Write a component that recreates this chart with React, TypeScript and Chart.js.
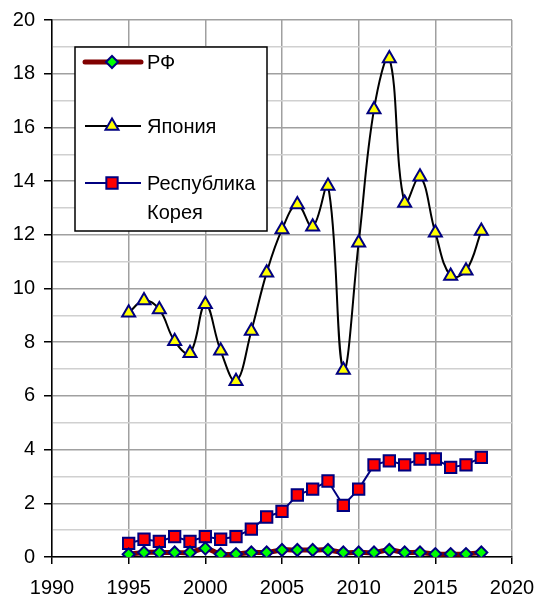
import React, { useEffect, useRef } from "react";
import { Chart, registerables } from "chart.js";
import { drawPoint } from "chart.js/helpers";

Chart.register(...registerables);

const years = [1995, 1996, 1997, 1998, 1999, 2000, 2001, 2002, 2003, 2004, 2005, 2006, 2007, 2008, 2009, 2010, 2011, 2012, 2013, 2014, 2015, 2016, 2017, 2018];
const rfValues = [0.1, 0.17, 0.17, 0.17, 0.17, 0.32, 0.11, 0.11, 0.17, 0.17, 0.26, 0.26, 0.26, 0.26, 0.17, 0.17, 0.17, 0.26, 0.17, 0.17, 0.11, 0.11, 0.11, 0.17];
const japanValues = [9.1, 9.55, 9.22, 8.04, 7.59, 9.41, 7.68, 6.55, 8.42, 10.59, 12.2, 13.13, 12.3, 13.82, 6.96, 11.7, 16.67, 18.57, 13.18, 14.16, 12.08, 10.47, 10.66, 12.14];
const koreaValues = [0.51, 0.66, 0.58, 0.76, 0.58, 0.76, 0.66, 0.76, 1.04, 1.49, 1.7, 2.31, 2.53, 2.83, 1.92, 2.53, 3.43, 3.58, 3.43, 3.65, 3.65, 3.34, 3.43, 3.71];
const seriesLabels = ["РФ", "Япония", "Республика Корея"];
const legendLines = [["РФ"], ["Япония"], ["Республика", "Корея"]];
const xTickValues = [1990, 1995, 2000, 2005, 2010, 2015, 2020];
const yTickLabels = ["0", "2", "4", "6", "8", "10", "12", "14", "16", "18", "20"];

const FONT = "'Liberation Sans', Arial, sans-serif";
const NAVY = "#000080";

const toPoints = (vals: number[]) => years.map((y, i) => ({ x: y, y: vals[i] }));

const legendPlugin = {
  id: "boxLegend",
  afterDraw(chart: any) {
    const { ctx, chartArea } = chart;
    const left = chartArea.left + 23;
    const top = chartArea.top + 27;
    const w = 192;
    const h = 184;
    ctx.save();
    ctx.fillStyle = "#ffffff";
    ctx.fillRect(left, top, w, h);
    ctx.strokeStyle = "#000000";
    ctx.lineWidth = 1.5;
    ctx.strokeRect(left, top, w, h);
    const rows = [15, 79, 136];
    chart.data.datasets.forEach((ds: any, i: number) => {
      const y = top + rows[i];
      ctx.strokeStyle = ds.borderColor;
      ctx.lineWidth = ds.borderWidth;
      ctx.lineCap = ds.borderWidth > 3 ? "round" : "butt";
      ctx.beginPath();
      ctx.moveTo(left + 10, y);
      ctx.lineTo(left + 66, y);
      ctx.stroke();
      ctx.fillStyle = ds.pointBackgroundColor;
      ctx.strokeStyle = ds.pointBorderColor;
      ctx.lineWidth = ds.pointBorderWidth;
      drawPoint(ctx, { pointStyle: ds.pointStyle, radius: ds.pointRadius, rotation: 0, borderWidth: ds.pointBorderWidth }, left + 37, y);
      ctx.fillStyle = "#000000";
      ctx.font = `20px ${FONT}`;
      ctx.textAlign = "left";
      ctx.textBaseline = "middle";
      legendLines[i].forEach((t, j) => {
        ctx.fillText(t, left + 72, y + 1 + j * 29);
      });
    });
    ctx.restore();
  },
};

export default function App() {
  const ref = useRef<HTMLCanvasElement | null>(null);
  useEffect(() => {
    if (!ref.current) return;
    const chart = new Chart(ref.current, {
      type: "line",
      data: {
        datasets: [
          {
            label: seriesLabels[0],
            data: toPoints(rfValues),
            borderColor: "#800000",
            borderWidth: 5,
            tension: 0.4,
            pointStyle: "rectRot",
            pointRadius: 6,
            pointBackgroundColor: "#00ff00",
            pointBorderColor: NAVY,
            pointBorderWidth: 2,
          },
          {
            label: seriesLabels[1],
            data: toPoints(japanValues),
            borderColor: "#000000",
            borderWidth: 2,
            tension: 0.4,
            pointStyle: "triangle",
            pointRadius: 7.5,
            pointBackgroundColor: "#ffff00",
            pointBorderColor: NAVY,
            pointBorderWidth: 2,
          },
          {
            label: seriesLabels[2],
            data: toPoints(koreaValues),
            borderColor: NAVY,
            borderWidth: 2,
            tension: 0,
            pointStyle: "rect",
            pointRadius: 8,
            pointBackgroundColor: "#ff0000",
            pointBorderColor: NAVY,
            pointBorderWidth: 2,
          },
        ],
      },
      options: {
        responsive: false,
        animation: false,
        devicePixelRatio: 1,
        layout: { padding: { top: 20, right: 27, left: 0, bottom: 0 } },
        plugins: { legend: { display: false }, tooltip: { enabled: false } },
        scales: {
          x: {
            type: "linear",
            min: xTickValues[0],
            max: xTickValues[xTickValues.length - 1],
            afterBuildTicks: (scale: any) => {
              scale.ticks = xTickValues.map((v) => ({ value: v }));
            },
            afterFit: (scale: any) => {
              scale.height = 42;
              scale.paddingLeft = 0;
              scale.paddingRight = 0;
            },
            ticks: {
              font: { family: FONT, size: 20 },
              color: "#000000",
              padding: 12,
              maxRotation: 0,
              callback: (v: any) => String(v),
            },
            grid: {
              color: "#a0a0a0",
              lineWidth: 1.5,
              tickLength: 7,
              tickColor: "#000000",
            },
            border: { color: "#000000", width: 1.5 },
          },
          y: {
            min: 0,
            max: 20,
            afterBuildTicks: (scale: any) => {
              const t = [];
              for (let v = 0; v <= 20; v++) t.push({ value: v });
              scale.ticks = t;
            },
            afterFit: (scale: any) => {
              scale.width = 52;
              scale.paddingTop = 0;
              scale.paddingBottom = 0;
            },
            ticks: {
              font: { family: FONT, size: 20 },
              color: "#000000",
              padding: 9,
              autoSkip: false,
              callback: (v: any) => (v % 2 === 0 ? yTickLabels[v / 2] : ""),
            },
            grid: {
              color: (c: any) => (c.tick && c.tick.value % 2 === 0 ? "#a0a0a0" : "#d0d0d0"),
              lineWidth: 1.5,
              tickLength: 8,
              tickColor: (c: any) => (c.tick && c.tick.value % 2 === 0 ? "#000000" : "rgba(0,0,0,0)"),
            },
            border: { color: "#000000", width: 1.5 },
          },
        },
      },
      plugins: [legendPlugin],
    } as any);
    return () => chart.destroy();
  }, []);
  return (
    <div style={{ position: "absolute", left: 0, top: 0, width: 539, height: 599, background: "#fff" }}>
      <canvas ref={ref} width={539} height={599} />
    </div>
  );
}
